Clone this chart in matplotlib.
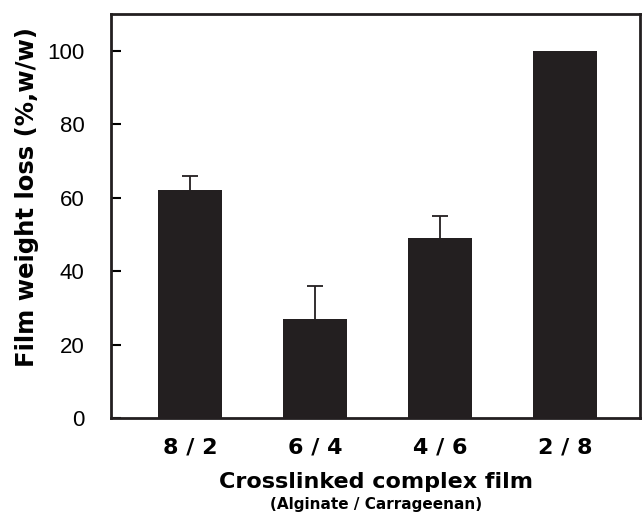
import numpy as np
import matplotlib
matplotlib.use("Agg")
from matplotlib import pyplot as plt

plt.rcParams['font.family'] = ['Liberation Sans', 'DejaVu Sans']

ratios = ["8 / 2", "6 / 4", "4 / 6", "2 / 8"]
weight_loss = [62, 27, 49, 100]
err_up = [4, 9, 6, 0]

fig = plt.figure(figsize=(6.42, 5.16), dpi=100)
ax = fig.add_axes([0.173, 0.19, 0.824, 0.783])

x = np.arange(len(ratios))
ax.bar(x, weight_loss, width=0.51, color="#231f20", zorder=2)

# upper error bars only (stem + cap), none on 2/8
vals = np.array(weight_loss)
errs = np.array(err_up)
m = errs > 0
ax.vlines(x[m], vals[m], vals[m] + errs[m], color="#231f20", lw=1.3, zorder=1)
ax.hlines(vals[m] + errs[m], x[m] - 0.065, x[m] + 0.065, color="#231f20", lw=1.3, zorder=1)

ax.set_xlim(-0.63, 3.6)
ax.set_ylim(0, 110)
ax.set_yticks([0, 20, 40, 60, 80, 100])
ax.tick_params(axis="y", direction="in", length=7, width=1.5, labelsize=16, pad=19)
ax.tick_params(axis="x", length=0, pad=14)
ax.set_xticks(x)
ax.set_xticklabels(ratios, fontweight="bold", fontsize=16, family="DejaVu Sans")
for s in ax.spines.values():
    s.set_linewidth(2)
    s.set_color("#231f20")

fig.text(0.042, 0.618, "Film weight loss (%,w/w)", rotation=90, ha="center",
         va="center", fontsize=17.5, fontweight="bold", family="DejaVu Sans")
fig.text(0.586, 0.066, "Crosslinked complex film", ha="center", va="center",
         fontsize=16, fontweight="bold", family="DejaVu Sans")
fig.text(0.585, 0.022, "(Alginate / Carrageenan)", ha="center", va="center",
         fontsize=11, fontweight="bold", family="DejaVu Sans")

fig.savefig("out.png", dpi=100)
